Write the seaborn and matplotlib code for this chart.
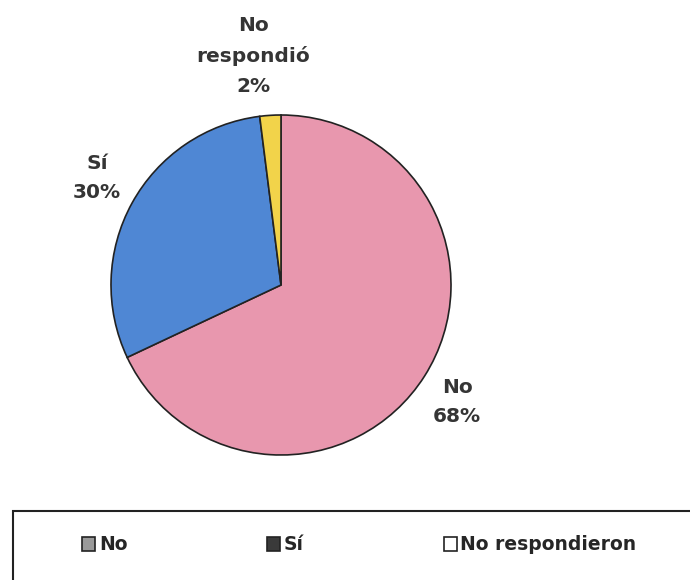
import matplotlib
matplotlib.use("Agg")
import matplotlib.pyplot as plt
import seaborn as sns
from matplotlib.patches import Rectangle, Patch

sns.set_theme(style="white")
plt.rcParams['font.family'] = ['DejaVu Sans']

# data
categories = ['No', 'Sí', 'No respondió']
values = [68, 30, 2]
slice_colors = ['#E897AE', '#4F87D4', '#F2D34A']
legend_labels = ['No', 'Sí', 'No respondieron']
legend_fill = ['#9a9a9a', '#3a3a3a', '#ffffff']

W, H = 690, 580
fig = plt.figure(figsize=(W / 100, H / 100), dpi=100)
ax = fig.add_axes([0, 0, 1, 1])

cx, cy, r = 281, 285, 170
wedges, _ = ax.pie(values, colors=slice_colors, startangle=90, counterclock=False,
                   radius=1, wedgeprops=dict(edgecolor='#222222', linewidth=1.2))
ax.set_aspect('auto')
ax.set_xlim(-cx / r, (W - cx) / r)
ax.set_ylim(-(H - cy) / r, cy / r)
ax.axis('off')

# slice labels (pixel centres converted to pie units)
label_px = [(457, 402), (97, 178), (253, 56)]
for name, v, (px, py) in zip(categories, values, label_px):
    txt = name.replace(' ', '\n') + '\n' + f'{v}%'
    ax.text((px - cx) / r, (cy - py) / r, txt, ha='center', va='center',
            fontsize=14.5, fontweight='bold', color='#353535', linespacing=1.72)

# legend frame
fig.patches.append(Rectangle((13 / W, -0.01), 1, (H - 511) / H + 0.01, transform=fig.transFigure,
                             fill=False, edgecolor='#222222', linewidth=1.5))
handles = [Patch(facecolor=c, edgecolor='#222222', linewidth=1.2) for c in legend_fill]
fig.legend(handles, legend_labels, ncol=3, frameon=False, loc='center left',
           bbox_to_anchor=(82 / W, 1 - 545 / H), borderpad=0, borderaxespad=0,
           prop={'weight': 'bold', 'size': 13.5}, handlelength=0.7, handleheight=0.7,
           handletextpad=0.2, columnspacing=7.45)

fig.savefig('out.png', dpi=100)
